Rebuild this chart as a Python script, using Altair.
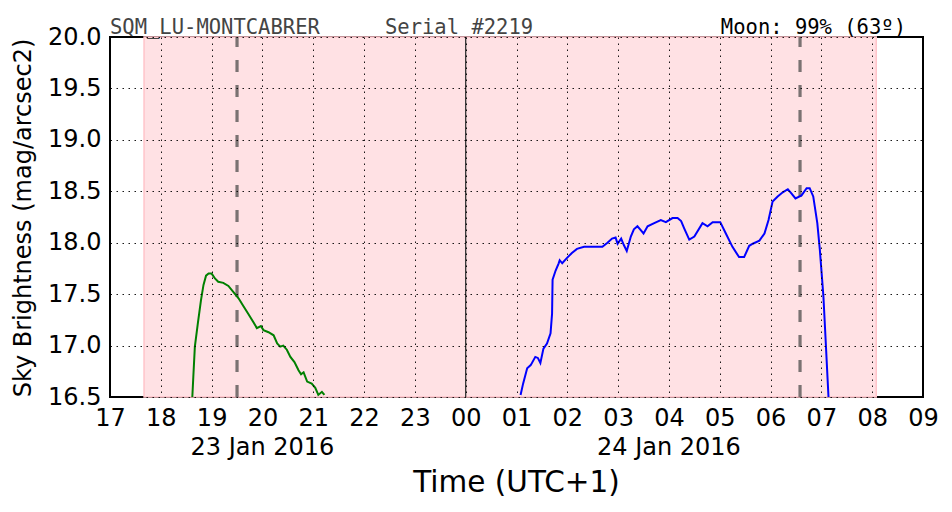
import altair as alt
import pandas as pd

# ---- data ----
green_hours = [18.62, 18.64, 18.67, 18.73, 18.79, 18.84, 18.89, 18.94, 19.00, 19.07, 19.13, 19.23,
               19.33, 19.43, 19.53, 19.63, 19.72, 19.82, 19.89, 19.97, 20.02, 20.12, 20.22, 20.29,
               20.35, 20.41, 20.48, 20.55, 20.63, 20.71, 20.76, 20.81, 20.88, 20.97, 21.04, 21.10,
               21.17, 21.22]
green_vals = [16.50, 16.70, 16.99, 17.22, 17.44, 17.59, 17.68, 17.70, 17.70, 17.65, 17.62, 17.61,
              17.58, 17.52, 17.46, 17.38, 17.31, 17.23, 17.17, 17.19, 17.15, 17.13, 17.10, 17.02,
              16.99, 17.00, 16.96, 16.89, 16.84, 16.76, 16.72, 16.74, 16.65, 16.63, 16.59, 16.52,
              16.55, 16.52]

blue_hours = [25.08, 25.13, 25.21, 25.28, 25.37, 25.42, 25.47, 25.53, 25.60, 25.67, 25.70, 25.71,
              25.77, 25.83, 25.85, 25.90, 25.99, 26.09, 26.19, 26.33, 26.52, 26.69, 26.79, 26.88,
              26.95, 26.99, 27.06, 27.11, 27.17, 27.25, 27.31, 27.38, 27.45, 27.50, 27.58, 27.71,
              27.84, 27.94, 28.07, 28.17, 28.24, 28.30, 28.40, 28.50, 28.66, 28.76, 28.86, 29.01,
              29.12, 29.25, 29.38, 29.48, 29.58, 29.65, 29.78, 29.88, 29.96, 30.04, 30.14, 30.24,
              30.34, 30.41, 30.49, 30.61, 30.71, 30.77, 30.84, 30.92, 30.97, 31.04, 31.08, 31.14]
blue_vals = [16.52, 16.63, 16.78, 16.81, 16.89, 16.88, 16.83, 16.97, 17.02, 17.12, 17.31, 17.64,
             17.73, 17.80, 17.83, 17.80, 17.85, 17.90, 17.94, 17.96, 17.96, 17.96, 18.00, 18.04,
             18.05, 17.99, 18.04, 17.98, 17.92, 18.06, 18.13, 18.16, 18.12, 18.09, 18.16, 18.19,
             18.22, 18.20, 18.24, 18.24, 18.21, 18.14, 18.03, 18.06, 18.19, 18.16, 18.20, 18.20,
             18.09, 17.96, 17.86, 17.86, 17.97, 17.99, 18.02, 18.09, 18.22, 18.40, 18.45, 18.49,
             18.52, 18.48, 18.43, 18.46, 18.53, 18.53, 18.45, 18.19, 17.93, 17.48, 17.09, 16.50]

night_start = [17.67]
night_end = [32.08]
twilight_marks = [19.50, 30.58]
midnight = [24.0]

x_ticks = list(range(17, 34))
x_tick_labels = ["17", "18", "19", "20", "21", "22", "23", "00", "01", "02", "03", "04",
                 "05", "06", "07", "08", "09"]
y_ticks = [16.5, 17.0, 17.5, 18.0, 18.5, 19.0, 19.5, 20.0]

date_labels = ["23 Jan 2016", "24 Jan 2016"]
date_label_hours = [20.0, 28.0]

title_left = "SQM_LU-MONTCABRER"
title_mid = "Serial #2219"
title_right = "Moon: 99% (63º)"
x_title = "Time (UTC+1)"
y_title = "Sky Brightness (mag/arcsec2)"

W, H = 813, 360
FONT = "DejaVu Sans"
MONO = "DejaVu Sans Mono"
TICK_FS = 24

xscale = alt.Scale(domain=[17, 33], nice=False, zero=False)
yscale = alt.Scale(domain=[16.5, 20.0], nice=False, zero=False)

label_expr = "[" + ",".join("'" + s + "'" for s in x_tick_labels) + "][datum.value - 17]"

xaxis = alt.Axis(values=x_ticks, labelExpr=label_expr, title=None, grid=True, domain=False,
                 ticks=False, labelFontSize=TICK_FS, labelFont=FONT, labelColor="black",
                 labelPadding=9, labelFlush=False, zindex=1)
yaxis = alt.Axis(values=y_ticks, format=".1f", title=None, grid=True, domain=False,
                 ticks=False, labelFontSize=TICK_FS, labelFont=FONT, labelColor="black",
                 labelPadding=9, zindex=1)

night_df = pd.DataFrame({"start": night_start, "end": night_end})
night = alt.Chart(night_df).mark_rect(color="#ffe1e4", stroke="#ffc4ca", strokeWidth=1.5).encode(
    x=alt.X("start:Q", scale=xscale, axis=xaxis),
    x2="end:Q",
    y=alt.value(0),
    y2=alt.value(H),
)

# invisible layer to carry the y axis
yaxis_layer = alt.Chart(pd.DataFrame({"v": y_ticks})).mark_point(opacity=0).encode(
    y=alt.Y("v:Q", scale=yscale, axis=yaxis),
)

mid_rule = alt.Chart(pd.DataFrame({"h": midnight})).mark_rule(color="#333333", strokeWidth=1.3).encode(
    x=alt.X("h:Q", scale=xscale),
    y=alt.value(H), y2=alt.value(0),
)

twi = alt.Chart(pd.DataFrame({"h": twilight_marks})).mark_rule(
    color="#7a7272", strokeWidth=3.2, strokeDash=[12, 13]).encode(
    x=alt.X("h:Q", scale=xscale),
    y=alt.value(H), y2=alt.value(0),
)

green = alt.Chart(pd.DataFrame({"h": green_hours, "v": green_vals})).mark_line(
    color="#008000", strokeWidth=2, clip=True).encode(
    x=alt.X("h:Q", scale=xscale), y=alt.Y("v:Q", scale=yscale), order="h:Q")

blue = alt.Chart(pd.DataFrame({"h": blue_hours, "v": blue_vals})).mark_line(
    color="#0000ff", strokeWidth=2, clip=True).encode(
    x=alt.X("h:Q", scale=xscale), y=alt.Y("v:Q", scale=yscale), order="h:Q")

dates = alt.Chart(pd.DataFrame({"h": date_label_hours, "t": date_labels})).mark_text(
    font=FONT, fontSize=TICK_FS, color="black", baseline="middle", align="center").encode(
    x=alt.X("h:Q", scale=xscale), y=alt.value(411), text="t:N")

def label(text, x, y, **kw):
    return alt.Chart(pd.DataFrame({"t": [text]})).mark_text(**kw).encode(
        x=alt.value(x), y=alt.value(y), text="t:N")

t1 = label(title_left, 0, -3, font=MONO, fontSize=20.5, color="#444444", align="left", baseline="alphabetic")
t2 = label(title_mid, 275, -3, font=MONO, fontSize=20.5, color="#444444", align="left", baseline="alphabetic")
t3 = label(title_right, 796, -3, font=MONO, fontSize=20.5, color="black", align="right", baseline="alphabetic")
xt = label(x_title, W / 2, 446, font=FONT, fontSize=29.5, color="black", align="center", baseline="middle")
yt = label(y_title, -86, H / 2 + 1, font=FONT, fontSize=24, color="black", align="center", baseline="middle", angle=270)

chart = alt.layer(night, yaxis_layer, mid_rule, twi, green, blue, dates, t1, t2, t3, xt, yt).properties(
    width=W, height=H,
    autosize=alt.AutoSizeParams(type="none"),
    padding={"left": 110, "top": 37, "right": 29, "bottom": 115},
    background="white",
).configure_view(stroke="black", strokeWidth=2).configure_axis(
    gridColor="black", gridDash=[1.5, 4.5], gridWidth=1, gridOpacity=0.9)

chart.save("out.html", embed_options={"renderer": "svg", "actions": False})
